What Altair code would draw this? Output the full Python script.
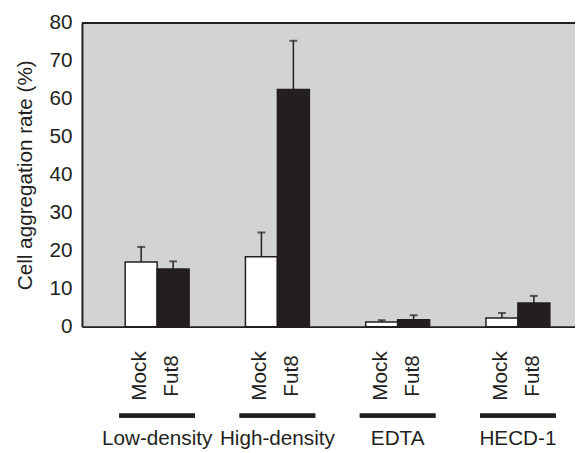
import altair as alt
import pandas as pd

groups = ["Low-density", "High-density", "EDTA", "HECD-1"]
conditions = ["Mock", "Fut8"]
mock_mean = [17.0, 18.4, 1.2, 2.3]
mock_err = [4.0, 6.4, 0.5, 1.3]
fut8_mean = [15.2, 62.5, 1.8, 6.2]
fut8_err = [2.0, 12.8, 1.2, 1.9]
y_ticks = [0, 10, 20, 30, 40, 50, 60, 70, 80]

rows = []
for i, g in enumerate(groups):
    rows.append({"group": g, "cond": "Mock", "mean": mock_mean[i], "top": mock_mean[i] + mock_err[i]})
    rows.append({"group": g, "cond": "Fut8", "mean": fut8_mean[i], "top": fut8_mean[i] + fut8_err[i]})
df = pd.DataFrame(rows)

INK = "#231f20"
FONT = "Liberation Sans"
W, H = 500, 308

x = alt.X(
    "group:N",
    sort=groups,
    scale=alt.Scale(paddingInner=0.37, paddingOuter=0.235, align=0.66),
    axis=alt.Axis(
        title=None, labelAngle=0, ticks=False, domain=True, domainColor=INK,
        domainWidth=2, labelPadding=103, labelFontSize=21, labelColor=INK,
        labelFont=FONT,
    ),
)
xo = alt.XOffset("cond:N", sort=conditions, scale=alt.Scale(paddingInner=0, paddingOuter=0.185))

y_scale = alt.Scale(domain=[0, 80], nice=False)
y_axis = alt.Axis(
    values=y_ticks, tickCount=9, ticks=False, grid=False, domain=True, domainColor=INK, domainWidth=2,
    labelPadding=10, labelFontSize=21, labelColor=INK, labelFont=FONT, labelOverlap=False,
    title="Cell aggregation rate (%)", titleFontSize=21, titleFontWeight="normal",
    titleColor=INK, titleFont=FONT, titleAngle=270, titleX=-51, titleY=H / 2,
    titleBaseline="alphabetic", titleAlign="center",
)
Y = alt.Y("mean:Q", scale=y_scale, axis=y_axis)
Ytop = alt.Y("top:Q", scale=y_scale, axis=y_axis)

base = alt.Chart(df)

bars = base.mark_bar(stroke=INK, strokeWidth=1.5).encode(
    x=x,
    xOffset=xo,
    y=Y,
    color=alt.Color("cond:N", scale=alt.Scale(domain=conditions, range=["#ffffff", INK]), legend=None),
)

err = base.mark_rule(color=INK, strokeWidth=1.5).encode(
    x=x, xOffset=xo, y=Y, y2="top:Q"
)
caps = base.mark_tick(color=INK, thickness=2, size=8).encode(
    x=x, xOffset=xo, y=Ytop
)

cond_labels = base.mark_text(
    angle=270, align="center", baseline="middle", fontSize=21, font=FONT, color=INK, dy=-1
).encode(x=x, xOffset=xo, y=alt.value(358), text="cond:N")

group_lines = base.mark_bar(color=INK).encode(
    x=x, y=alt.value(396), y2=alt.value(400.5)
)

top_frame = alt.Chart(alt.Data(values=[{}])).mark_rule(color=INK, strokeWidth=2).encode(
    x=alt.value(0), x2=alt.value(W), y=alt.value(0)
)

chart = alt.layer(bars, err, caps, cond_labels, group_lines, top_frame).properties(
    width=W,
    height=H,
    autosize=alt.AutoSizeParams(type="none"),
    padding={"left": 75, "top": 12, "right": 0, "bottom": 125},
    background="#ffffff",
).configure_view(stroke=None, fill="#d1d3d4")

chart.save("out.html", embed_options={"renderer": "svg", "actions": False})
